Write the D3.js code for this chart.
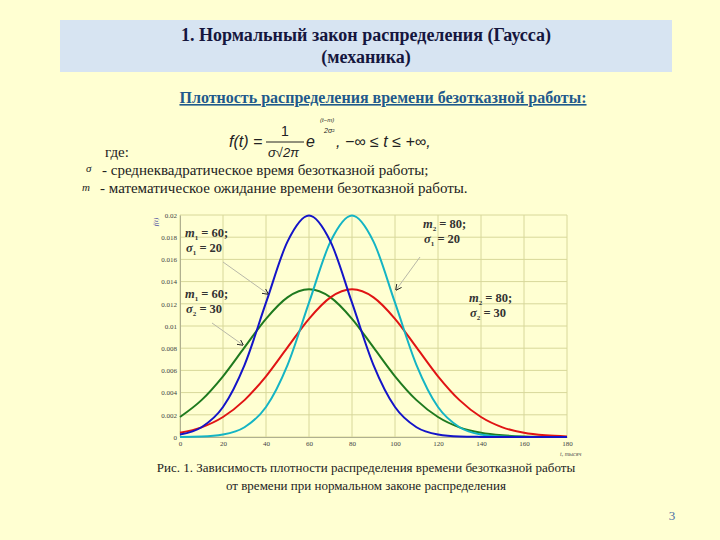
<!DOCTYPE html>
<html lang="ru">
<head>
<meta charset="utf-8">
<title>Нормальный закон распределения</title>
<script src="https://cdn.jsdelivr.net/npm/d3@7/dist/d3.min.js"></script>
<style>
  body { margin: 0; background: #ffffd2; }
  svg { display: block; }
</style>
</head>
<body>
<script>
// время, тыс. ч
var tVals = [0, 10, 20, 30, 40, 50, 60, 70, 80, 90, 100, 110, 120, 130, 140, 150, 160, 170, 180];
// значения f(t)
var fM60S20 = [0.00022, 0.00088, 0.0027, 0.00648, 0.0121, 0.0176, 0.01995, 0.0176, 0.0121, 0.00648, 0.0027, 0.00088, 0.00022, 0.00004, 0.00001, 0, 0, 0, 0];
var fM80S20 = [0.00001, 0.00004, 0.00022, 0.00088, 0.0027, 0.00648, 0.0121, 0.0176, 0.01995, 0.0176, 0.0121, 0.00648, 0.0027, 0.00088, 0.00022, 0.00004, 0.00001, 0, 0];
var fM60S30 = [0.0018, 0.00332, 0.00547, 0.00807, 0.01065, 0.01258, 0.0133, 0.01258, 0.01065, 0.00807, 0.00547, 0.00332, 0.0018, 0.00087, 0.00038, 0.00015, 0.00005, 0.00002, 0];
var fM80S30 = [0.00038, 0.00087, 0.0018, 0.00332, 0.00547, 0.00807, 0.01065, 0.01258, 0.0133, 0.01258, 0.01065, 0.00807, 0.00547, 0.00332, 0.0018, 0.00087, 0.00038, 0.00015, 0.00005];
var xTicks = [0, 20, 40, 60, 80, 100, 120, 140, 160, 180];
var yTicks = [0, 0.002, 0.004, 0.006, 0.008, 0.01, 0.012, 0.014, 0.016, 0.018, 0.02];

var series = [
  { vals: fM60S30, color: "#1f7a1f" },
  { vals: fM80S30, color: "#e01414" },
  { vals: fM80S20, color: "#14b4c4" },
  { vals: fM60S20, color: "#1414c8" }
];

var SERIF = "'Liberation Serif', 'Times New Roman', 'DejaVu Serif', serif";
var SANS = "'Liberation Sans', Arial, sans-serif";

var W = 720, H = 540;
var svg = d3.select("body").append("svg").attr("width", W).attr("height", H);

svg.append("rect").attr("width", W).attr("height", H).attr("fill", "#ffffd2");

// заголовок
svg.append("rect").attr("x", 60).attr("y", 20).attr("width", 612).attr("height", 52).attr("fill", "#d7e4f2");
svg.append("text").attr("font-family", SERIF).attr("x", 366).attr("y", 41).attr("text-anchor", "middle")
  .attr("font-size", 18).attr("font-weight", "bold").attr("fill", "#15163e")
  .text("1. Нормальный закон распределения (Гаусса)");
svg.append("text").attr("font-family", SERIF).attr("x", 366).attr("y", 63).attr("text-anchor", "middle")
  .attr("font-size", 18).attr("font-weight", "bold").attr("fill", "#15163e")
  .text("(механика)");

svg.append("text").attr("font-family", SERIF).attr("x", 383).attr("y", 103).attr("text-anchor", "middle")
  .attr("font-size", 16).attr("font-weight", "bold").attr("fill", "#1f5a8c")
  .attr("text-decoration", "underline")
  .text("Плотность распределения времени безотказной работы:");

// формула
var fg = svg.append("g").attr("font-family", SANS).attr("fill", "#222");
fg.append("text").attr("x", 229).attr("y", 147).attr("font-size", 16).attr("font-style", "italic").text("f(t) =");
fg.append("text").attr("x", 285).attr("y", 136).attr("font-size", 14).attr("text-anchor", "middle").text("1");
fg.append("line").attr("x1", 266).attr("x2", 304).attr("y1", 142).attr("y2", 142).attr("stroke", "#222").attr("stroke-width", 1);
fg.append("text").attr("x", 268).attr("y", 157).attr("font-size", 13).attr("font-style", "italic").text("σ√2π");
fg.append("text").attr("x", 306).attr("y", 147).attr("font-size", 16).attr("font-style", "italic").text("e");
fg.append("text").attr("x", 320).attr("y", 122).attr("font-size", 6).attr("font-style", "italic").text("(t−m)");
fg.append("text").attr("x", 324).attr("y", 133).attr("font-size", 7).attr("font-style", "italic").text("2σ²");
fg.append("text").attr("x", 336).attr("y", 147).attr("font-size", 16).attr("font-style", "italic").text(", −∞ ≤ t ≤ +∞,");

var tg = svg.append("g").attr("font-family", SERIF).attr("fill", "#222").attr("font-size", 15);
tg.append("text").attr("x", 105).attr("y", 157).text("где:");
tg.append("text").attr("x", 86).attr("y", 172).attr("font-size", 11).attr("font-style", "italic").text("σ");
tg.append("text").attr("x", 102).attr("y", 175).text("- среднеквадратическое время безотказной работы;");
tg.append("text").attr("x", 82).attr("y", 191).attr("font-size", 11).attr("font-style", "italic").text("m");
tg.append("text").attr("x", 100).attr("y", 193).text("- математическое ожидание времени безотказной работы.");

// график
var x = d3.scaleLinear().domain([0, 180]).range([180, 567]);
var y = d3.scaleLinear().domain([0, 0.02]).range([437, 215]);

var grid = svg.append("g").attr("stroke", "#d8d89a").attr("stroke-width", 1);
grid.selectAll("line.v").data(xTicks).enter().append("line")
  .attr("x1", function(d) { return x(d); }).attr("x2", function(d) { return x(d); })
  .attr("y1", y(0)).attr("y2", y(0.02));
grid.selectAll("line.h").data(yTicks).enter().append("line")
  .attr("x1", x(0)).attr("x2", x(180))
  .attr("y1", function(d) { return y(d); }).attr("y2", function(d) { return y(d); });

var xAxis = d3.axisBottom(x).tickValues(xTicks).tickSize(0).tickPadding(4).tickFormat(d3.format("d"));
var gx = svg.append("g").attr("transform", "translate(0," + y(0) + ")").call(xAxis);
gx.attr("font-family", SERIF);
gx.select(".domain").attr("stroke", "#b0b090");
gx.selectAll("text").attr("font-size", 7).attr("fill", "#444");

var yAxis = d3.axisLeft(y).tickValues(yTicks).tickSize(0).tickPadding(3).tickFormat(function(d) { return d3.format("~g")(d); });
var gy = svg.append("g").attr("transform", "translate(" + x(0) + ",0)").call(yAxis);
gy.attr("font-family", SERIF);
gy.select(".domain").attr("stroke", "#b0b090");
gy.selectAll("text").attr("font-size", 7).attr("fill", "#444");

svg.append("text").attr("font-family", SERIF).attr("transform", "translate(158,222) rotate(-90)")
  .attr("text-anchor", "middle").attr("font-size", 7).attr("font-style", "italic").attr("fill", "#4a4aa0").text("f(t)");
svg.append("text").attr("font-family", SERIF).attr("x", 560).attr("y", 456)
  .attr("font-size", 6).attr("font-style", "italic").attr("fill", "#555").text("t, тысяч");

var line = d3.line()
  .x(function(d, i) { return x(tVals[i]); })
  .y(function(d) { return y(d); })
  .curve(d3.curveMonotoneX);

svg.selectAll("path.curve").data(series).enter().append("path")
  .attr("class", "curve")
  .attr("d", function(s) { return line(s.vals); })
  .attr("fill", "none").attr("stroke", function(s) { return s.color; }).attr("stroke-width", 2);

// подписи
svg.append("defs").append("marker").attr("id", "arr").attr("viewBox", "0 0 10 10")
  .attr("refX", 9).attr("refY", 5).attr("markerWidth", 6).attr("markerHeight", 6).attr("orient", "auto")
  .append("path").attr("d", "M0,0 L10,5 L0,10").attr("fill", "none").attr("stroke", "#222").attr("stroke-width", 1.5);

var arrows = [[223, 262, 268, 294], [212, 323, 243, 345], [420, 257, 396, 290]];
svg.selectAll("line.arr").data(arrows).enter().append("line")
  .attr("x1", function(d) { return d[0]; }).attr("y1", function(d) { return d[1]; })
  .attr("x2", function(d) { return d[2]; }).attr("y2", function(d) { return d[3]; })
  .attr("stroke", "#b8b8a8").attr("stroke-width", 1).attr("marker-end", "url(#arr)");

var notes = [
  { x: 185, y: 237, m: "1", mv: "60;", s: "1", sv: "20" },
  { x: 185, y: 298, m: "1", mv: "60;", s: "2", sv: "30" },
  { x: 423, y: 228, m: "2", mv: "80;", s: "1", sv: "20" },
  { x: 469, y: 302, m: "2", mv: "80;", s: "2", sv: "30" }
];
notes.forEach(function(n) {
  var t1 = svg.append("text").attr("font-family", SERIF).attr("x", n.x).attr("y", n.y)
    .attr("font-size", 12.5).attr("font-weight", "bold").attr("fill", "#333");
  t1.append("tspan").attr("font-style", "italic").text("m");
  t1.append("tspan").attr("font-size", 7).attr("dy", 3).text(n.m);
  t1.append("tspan").attr("dy", -3).text(" = " + n.mv);
  var t2 = svg.append("text").attr("font-family", SERIF).attr("x", n.x + 1).attr("y", n.y + 15)
    .attr("font-size", 12.5).attr("font-weight", "bold").attr("fill", "#333");
  t2.append("tspan").attr("font-style", "italic").text("σ");
  t2.append("tspan").attr("font-size", 7).attr("dy", 3).text(n.s);
  t2.append("tspan").attr("dy", -3).text(" = " + n.sv);
});

// подпись к рисунку
svg.append("text").attr("font-family", SERIF).attr("x", 366).attr("y", 472).attr("text-anchor", "middle")
  .attr("font-size", 13).attr("fill", "#222")
  .text("Рис. 1. Зависимость плотности распределения времени безотказной работы");
svg.append("text").attr("font-family", SERIF).attr("x", 366).attr("y", 490).attr("text-anchor", "middle")
  .attr("font-size", 13).attr("fill", "#222")
  .text("от времени при нормальном законе распределения");

svg.append("text").attr("font-family", SERIF).attr("x", 672).attr("y", 520).attr("text-anchor", "middle")
  .attr("font-size", 13).attr("fill", "#4a6fa5").text("3");
</script>
</body>
</html>
